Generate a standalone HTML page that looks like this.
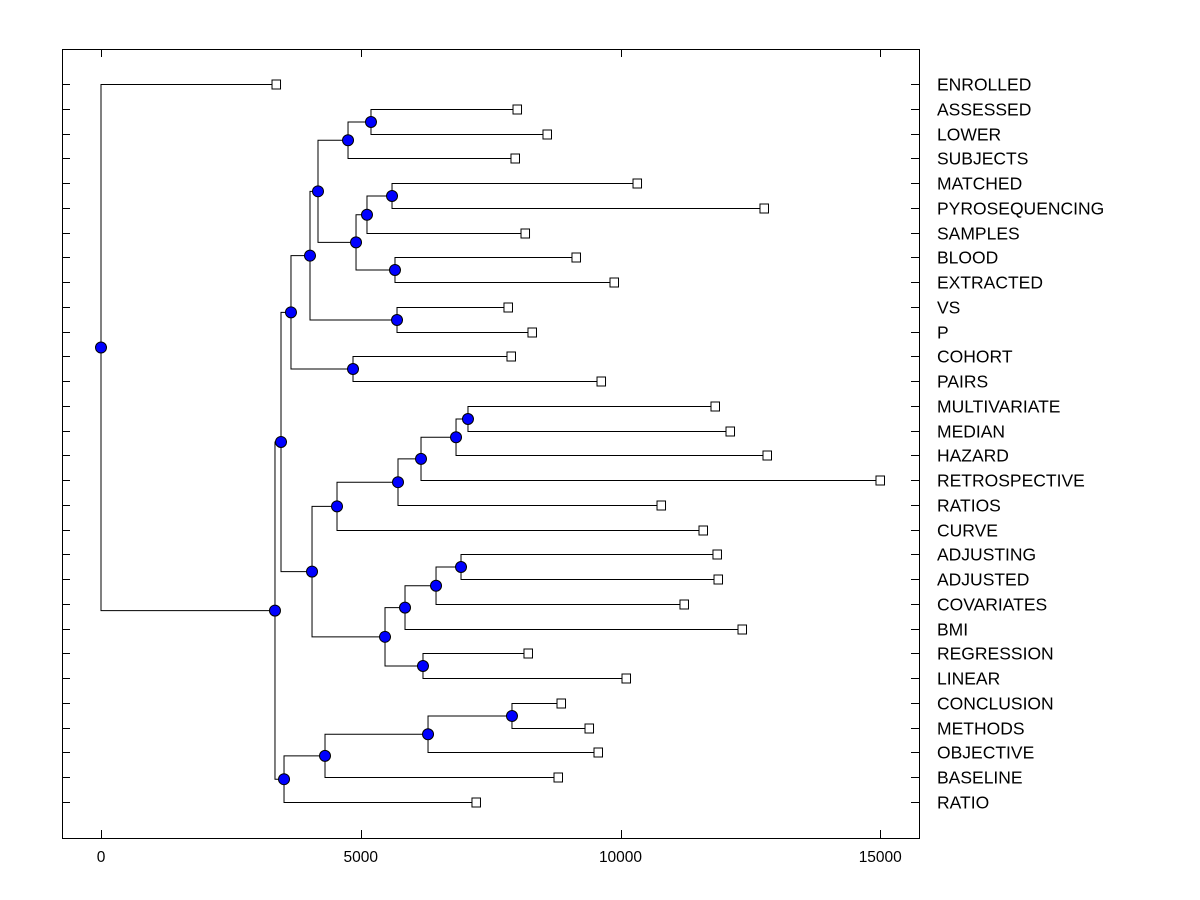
<!DOCTYPE html>
<html><head><meta charset="utf-8"><style>
html,body{margin:0;padding:0;background:#fff;}
svg{display:block;font-family:"Liberation Sans",Arial,sans-serif;}
</style></head><body>
<svg id="chart" width="1200" height="900" viewBox="0 0 1200 900" xmlns="http://www.w3.org/2000/svg">
<rect x="62.5" y="49.5" width="857" height="789" fill="none" stroke="#000" stroke-width="1"/>
<g id="ticks"></g><g id="links"></g><g id="nodes"></g><g id="labels"></g>
</svg>
<script>
const labels = ["ENROLLED","ASSESSED","LOWER","SUBJECTS","MATCHED","PYROSEQUENCING","SAMPLES","BLOOD","EXTRACTED","VS","P","COHORT","PAIRS","MULTIVARIATE","MEDIAN","HAZARD","RETROSPECTIVE","RATIOS","CURVE","ADJUSTING","ADJUSTED","COVARIATES","BMI","REGRESSION","LINEAR","CONCLUSION","METHODS","OBJECTIVE","BASELINE","RATIO"];
const leafValues = [3369,8008,8585,7969,10318,12762,8162,9143,9875,7834,8296,7892,9625,11819,12108,12820,14995,10780,11588,11857,11877,11222,12339,8219,10106,8855,9394,9567,8797,7218];
const mergeLeft  = [1,30,4,32,7,33,31,9,36,11,38,13,41,42,43,44,19,46,47,23,48,45,40,25,53,54,55,52,0];
const mergeRight = [2,3,5,6,8,34,35,10,37,12,39,14,15,16,17,18,20,21,22,24,49,50,51,26,27,28,29,56,57];
const mergeHeights = [5197,4755,5602,5120,5659,4909,4177,5698,4023,4851,3657,7064,6834,6160,5717,4543,6930,6449,5852,6198,5467,4062,3465,7911,6295,4312,3523,3349,0];
const xTicks = [0,5000,10000,15000];

const NS="http://www.w3.org/2000/svg";
const X = v => 101 + v*0.05195;
const rowY = i => 84 + i*(802-84)/29;
function mk(tag, attrs, parent){const e=document.createElementNS(NS,tag);for(const k in attrs)e.setAttribute(k,attrs[k]);parent.appendChild(e);return e;}
const gT=document.getElementById('ticks'),gL=document.getElementById('links'),gN=document.getElementById('nodes'),gLab=document.getElementById('labels');

xTicks.forEach(t=>{
  const x=Math.round(X(t))+0.5;
  const a=mk('line',{x1:x,x2:x,y1:49,y2:57,stroke:'#000'},gT);
  
  
  const b=mk('line',{x1:x,x2:x,y1:830,y2:838,stroke:'#000'},gT);
  
  
  const l=mk('text',{x:X(t),y:862,'text-anchor':'middle','font-size':'15.5'},gT);
  l.textContent=t;
  
  
});

const pos=[];
labels.forEach((lab,i)=>{
  const y=Math.round(rowY(i))+0.5;
  pos.push({x:X(leafValues[i]),y:y});
  const a=mk('line',{x1:62,x2:70,y1:y,y2:y,stroke:'#000'},gT);
  
  
  const b=mk('line',{x1:911,x2:919,y1:y,y2:y,stroke:'#000'},gT);
  
  
  const t=mk('text',{x:937,y:y+6,'font-size':'17.5'},gLab);
  t.textContent=lab;
  
  
});

mergeHeights.forEach((h,k)=>{
  const a=pos[mergeLeft[k]],b=pos[mergeRight[k]];
  const x=X(h),y=(a.y+b.y)/2;
  const p=mk('path',{d:`M${a.x},${a.y}H${x}V${b.y}H${b.x}`,fill:'none',stroke:'#000','stroke-width':1},gL);
  
  
  pos.push({x:x,y:y});
});

pos.forEach((p,i)=>{
  if(i<labels.length){
    const r=mk('rect',{x:p.x-4,y:p.y-4.5,width:8.5,height:9,fill:'#fff',stroke:'#000'},gN);
    
    
  } else {
    const c=mk('circle',{cx:p.x,cy:p.y,r:5.5,fill:'#0000ff',stroke:'#000','stroke-width':1},gN);
    
    
  }
});
</script>
</body></html>
